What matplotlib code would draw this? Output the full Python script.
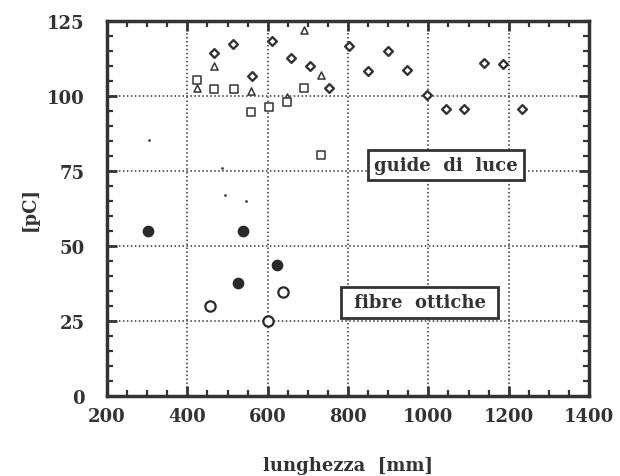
import matplotlib
matplotlib.use('Agg')
import matplotlib.pyplot as plt
from matplotlib.ticker import MultipleLocator

plt.rcParams['font.family'] = ['DejaVu Serif']
plt.rcParams['font.weight'] = 'bold'

# guide di luce (rombi)
rombi_x = [466, 514, 562, 610, 658, 705, 753, 802, 851, 900, 948, 996, 1043, 1090, 1138, 1185, 1234]
rombi_y = [114.3, 117.2, 106.7, 118.2, 112.7, 109.9, 102.6, 116.6, 108.2, 114.9, 108.6, 100.4, 95.6, 95.7, 111.0, 110.8, 95.7]

# triangoli
tri_x = [690, 466, 425, 558, 647, 734]
tri_y = [122.1, 109.9, 102.7, 101.8, 99.6, 107.0]

# quadrati
quad_x = [425, 467, 515, 559, 603, 647, 691, 732]
quad_y = [105.4, 102.3, 102.3, 94.8, 96.4, 97.9, 102.6, 80.4]

# fibre ottiche: cerchi pieni e vuoti
pieni_x = [301, 539, 527, 623]
pieni_y = [55.1, 54.9, 37.8, 43.6]
vuoti_x = [456, 637, 601]
vuoti_y = [30.1, 34.8, 25.1]

# tracce sbiadite nella scansione
tracce_x = [305, 486, 494, 547]
tracce_y = [85.4, 75.9, 67.0, 65.0]

fig = plt.figure(figsize=(6.2, 4.77), dpi=100)
ax = fig.add_axes([0.1726, 0.1677, 0.7774, 0.7862])

ax.scatter(rombi_x, rombi_y, marker='D', s=20, facecolors='white', edgecolors='#333333', linewidths=1.7, zorder=3)
ax.scatter(tri_x, tri_y, marker='^', s=26, facecolors='white', edgecolors='#333333', linewidths=1.1, zorder=3)
ax.scatter(quad_x, quad_y, marker='s', s=26, facecolors='white', edgecolors='#333333', linewidths=1.1, zorder=3)
ax.scatter(pieni_x, pieni_y, marker='o', s=55, color='#2a2a2a', zorder=3)
ax.scatter(vuoti_x, vuoti_y, marker='o', s=55, facecolors='white', edgecolors='#2a2a2a', linewidths=1.6, zorder=3)
ax.scatter(tracce_x, tracce_y, marker='.', s=4, color='#444444', zorder=3)

ax.set_xlim(200, 1400)
ax.set_ylim(0, 125)
ax.xaxis.set_major_locator(MultipleLocator(200))
ax.xaxis.set_minor_locator(MultipleLocator(50))
ax.yaxis.set_major_locator(MultipleLocator(25))
ax.yaxis.set_minor_locator(MultipleLocator(5))
ax.tick_params(which='both', direction='in', top=True, right=True, color='#333333')
ax.tick_params(which='major', length=7, width=2)
ax.tick_params(which='minor', length=4, width=1.6)
ax.tick_params(axis='x', labelsize=13, pad=8, labelcolor='#333333')
ax.tick_params(axis='y', labelsize=13, pad=16, labelcolor='#333333')
for lab in ax.get_xticklabels() + ax.get_yticklabels():
    lab.set_fontweight('bold')
for sp in ax.spines.values():
    sp.set_linewidth(2.5)
    sp.set_color('#333333')

ax.grid(True, which='major', linestyle=(0, (1, 1.6)), color='#333333', linewidth=1.1)

ax.set_xlabel('lunghezza  [mm]', fontsize=13, fontweight='bold', color='#333333', labelpad=22)
ax.set_ylabel('[pC]', fontsize=13, fontweight='bold', color='#333333', labelpad=6)

box = dict(boxstyle='square,pad=0.35', facecolor='white', edgecolor='#333333', linewidth=2)
ax.text(1044, 77, 'guide  di  luce', fontsize=13, fontweight='bold', color='#333333',
        ha='center', va='center', bbox=box, zorder=4)
ax.text(979, 31.2, ' fibre  ottiche ', fontsize=13, fontweight='bold', color='#333333',
        ha='center', va='center', bbox=box, zorder=4)

fig.savefig('out.png', dpi=100)
